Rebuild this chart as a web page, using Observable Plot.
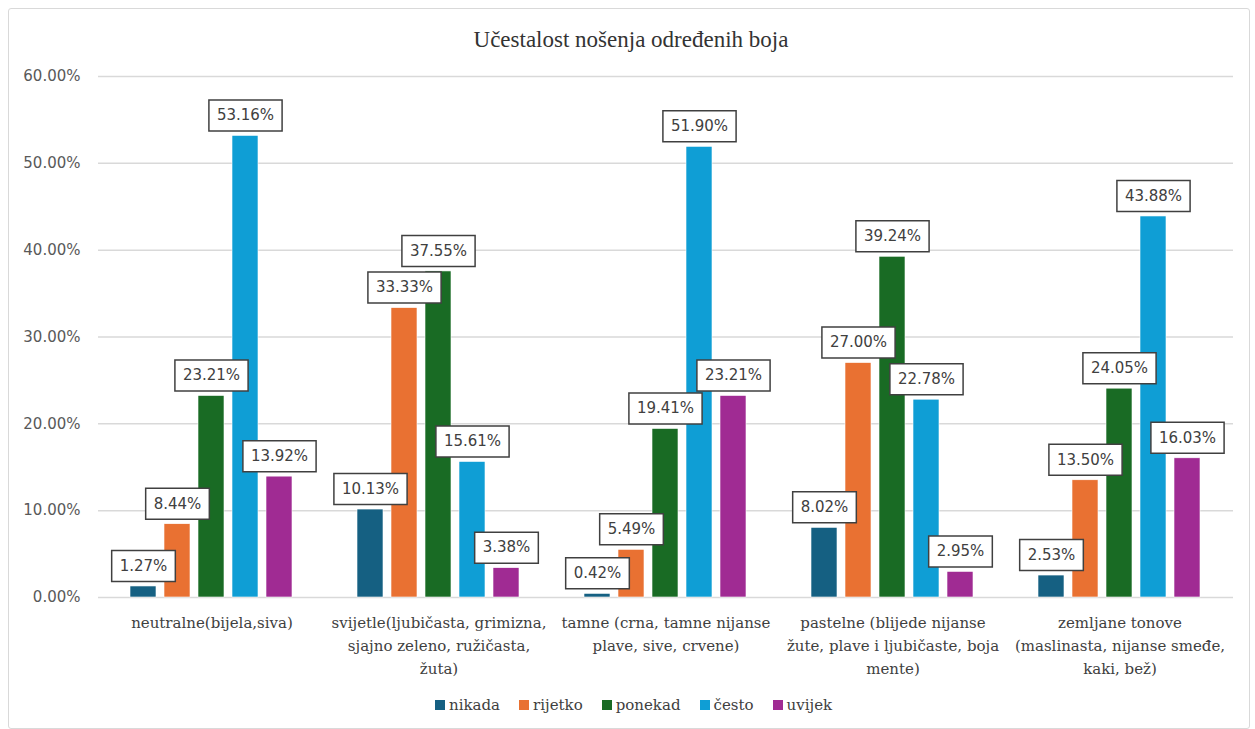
<!DOCTYPE html>
<html>
<head>
<meta charset="utf-8">
<script src="https://cdn.jsdelivr.net/npm/d3@7"></script>
<script src="https://cdn.jsdelivr.net/npm/@observablehq/plot@0.6"></script>
<style>
  html, body { margin: 0; padding: 0; background: #fff; }
  #frame { position: absolute; left: 8px; top: 8px; width: 1242px; height: 721px; border: 1.5px solid #d9d9d9; border-radius: 3px; box-sizing: border-box; }
  #title { position: absolute; left: 0; width: 1262px; top: 25px; text-align: center; font-family: "Liberation Serif", serif; font-size: 23px; line-height: 30px; color: #333; }
  #chart { position: absolute; left: 0; top: 0; }
  #legend { position: absolute; left: 435px; top: 694px; height: 22px; display: flex; align-items: center; gap: 19px; font-family: "DejaVu Serif", serif; font-size: 15px; color: #404040; }
  #legend .item { display: flex; align-items: center; gap: 4px; }
  #legend .sw { width: 10px; height: 10px; display: inline-block; }
</style>
</head>
<body>
<div id="frame"></div>
<div id="chart"></div>
<div id="title">Učestalost nošenja određenih boja</div>
<div id="legend"></div>
<script>
const categories = [
  "neutralne(bijela,siva)",
  "svijetle(ljubičasta, grimizna,\nsjajno zeleno, ružičasta,\nžuta)",
  "tamne (crna, tamne nijanse\nplave, sive, crvene)",
  "pastelne (blijede nijanse\nžute, plave i ljubičaste, boja\nmente)",
  "zemljane tonove\n(maslinasta, nijanse smeđe,\nkaki, bež)"
];
const series = ["nikada", "rijetko", "ponekad", "često", "uvijek"];
const colors = ["#156082", "#e97132", "#196b24", "#0f9ed5", "#a02b93"];
const nikada  = [1.27, 10.13, 0.42, 8.02, 2.53];
const rijetko = [8.44, 33.33, 5.49, 27.00, 13.50];
const ponekad = [23.21, 37.55, 19.41, 39.24, 24.05];
const cesto   = [53.16, 15.61, 51.90, 22.78, 43.88];
const uvijek  = [13.92, 3.38, 23.21, 2.95, 16.03];
const yTicks = [0, 10, 20, 30, 40, 50, 60];

const valuesBySeries = [nikada, rijetko, ponekad, cesto, uvijek];
const data = [];
categories.forEach((c, ci) => {
  series.forEach((s, si) => {
    data.push({cat: c, series: s, value: valuesBySeries[si][ci] / 100});
  });
});
const fmt = v => (v * 100).toFixed(2) + "%";

// label box sizing from measured label text
const LABEL_FONT = "15px 'DejaVu Sans'";
const ctx = document.createElement("canvas").getContext("2d");
ctx.font = LABEL_FONT;
const BOX_PAD = 8, BOX_H = 31, BOX_GAP = 5;
const boxHalfWidth = d => (ctx.measureText(fmt(d.value)).width + 2 * BOX_PAD) / 2;
const boxSymbol = {
  draw(context, size) {
    const hw = Math.sqrt(size / Math.PI);
    context.moveTo(-hw, -BOX_H / 2);
    context.lineTo(hw, -BOX_H / 2);
    context.lineTo(hw, BOX_H / 2);
    context.lineTo(-hw, BOX_H / 2);
    context.closePath();
  }
};
const labelDy = -(BOX_GAP + BOX_H / 2);

const chart = Plot.plot({
  width: 1255,
  height: 690,
  marginTop: 76,
  marginBottom: 93,
  marginLeft: 98,
  marginRight: 22,
  style: {color: "#404040", background: "transparent"},
  fx: {domain: categories, padding: 0, label: null},
  x: {domain: series, paddingInner: 0.23, paddingOuter: 0.89, axis: null},
  y: {domain: [0, 0.6], label: null},
  r: {type: "identity"},
  color: {domain: series, range: colors},
  marks: [
    Plot.gridY(yTicks.map(t => t / 100), {stroke: "#d9d9d9", strokeOpacity: 1, strokeWidth: 1.5}),
    Plot.axisY(yTicks.map(t => t / 100), {
      tickSize: 0, tickPadding: 18, tickFormat: d => (d * 100).toFixed(2) + "%",
      fontFamily: "DejaVu Sans", fontSize: 15, color: "#595959", label: null
    }),
    Plot.axisFx({
      anchor: "bottom", tickSize: 0, tickPadding: 14, label: null,
      fontFamily: "DejaVu Serif", fontSize: 15, lineHeight: 1.53, color: "#404040"
    }),
    Plot.barY(data, {fx: "cat", x: "series", y: "value", fill: "series", stroke: "white", strokeWidth: 0.6}),
    Plot.dot(data, {
      fx: "cat", x: "series", y: "value", r: boxHalfWidth, symbol: boxSymbol,
      dy: labelDy, fill: "white", stroke: "#404040", strokeWidth: 1.5
    }),
    Plot.text(data, {
      fx: "cat", x: "series", y: "value", text: d => fmt(d.value),
      dy: labelDy, lineAnchor: "middle", textAnchor: "middle",
      fontFamily: "DejaVu Sans", fontSize: 15, fill: "#404040"
    })
  ]
});
document.getElementById("chart").appendChild(chart);

const legend = document.getElementById("legend");
series.forEach((s, i) => {
  const item = document.createElement("span");
  item.className = "item";
  const sw = document.createElement("span");
  sw.className = "sw";
  sw.style.background = colors[i];
  const t = document.createElement("span");
  t.textContent = s;
  item.appendChild(sw);
  item.appendChild(t);
  legend.appendChild(item);
});
</script>
</body>
</html>
